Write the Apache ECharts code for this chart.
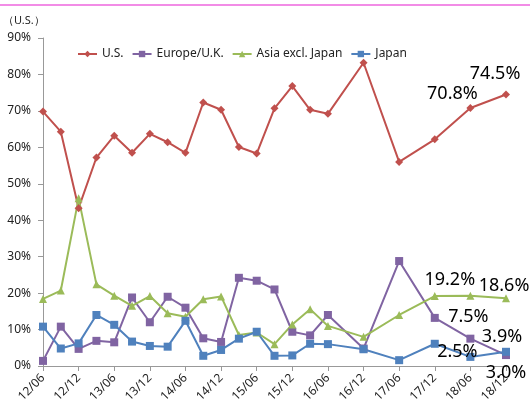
<!DOCTYPE html>
<html>
	<head>
		<meta charset="utf-8">
		<title></title>
		<script src="https://cdn.jsdelivr.net/npm/echarts@6/dist/echarts.min.js"></script>
		<style>
			html,body{margin:0;padding:0;background:#fff;}
			#chart{
				width: 532px;
				height: 415px;
			}
		</style>
	</head>
	<body>
		<div id="chart"></div>
		<script>
			// quarterly categories, points only where a survey exists
			const categories = ['12/06','12/09','12/12','13/03','13/06','13/09','13/12','14/03','14/06','14/09',
				'14/12','15/03','15/06','15/09','15/12','16/03','16/06','16/09','16/12','17/03',
				'17/06','17/09','17/12','18/03','18/06','18/09','18/12'];
			const usData = [69.8,64.3,43.3,57.2,63.2,58.5,63.7,61.4,58.5,72.3,70.3,60.1,58.3,70.7,76.8,70.3,69.2,null,83.2,null,56.0,null,62.2,null,70.8,null,74.5];
			const europeData = [1.4,10.8,4.7,6.9,6.5,18.8,12.0,19.0,16.0,7.6,6.6,24.2,23.4,21.0,9.4,8.4,14.0,null,4.8,null,28.8,null,13.2,null,7.5,null,3.0];
			const asiaData = [18.4,20.7,46.0,22.4,19.3,16.5,19.2,14.5,13.5,18.3,19.1,8.5,9.2,6.0,11.4,15.6,11.0,null,8.0,null,14.0,null,19.2,null,19.3,null,18.6];
			const japanData = [10.8,4.8,6.2,14.0,11.3,6.7,5.5,5.3,12.4,2.8,4.4,7.5,9.4,2.8,2.9,6.1,6.0,null,4.6,null,1.6,null,6.1,null,2.5,null,3.9];
			const yTicks = [0,10,20,30,40,50,60,70,80,90];

			const font = 'Noto Sans';

			// labelled points: [category, offset of label from point]
			function withLabels(data, marks){
				return data.map(function(v, i){
					const m = marks[categories[i]];
					if(!m || v == null) return v;
					return {
						value: v,
						label: {
							show: true,
							position: 'inside',
							offset: m,
							formatter: v.toFixed(1) + '%',
							fontSize: 18,
							fontFamily: font,
							color: '#000'
						}
					};
				});
			}

			function line(name, color, symbol, size, data){
				return {
					name: name,
					type: 'line',
					data: data,
					connectNulls: true,
					symbol: symbol,
					symbolSize: size,
					itemStyle: {color: color},
					lineStyle: {color: color, width: 2},
					emphasis: {disabled: true}
				};
			}

			const chart = echarts.init(document.getElementById('chart'));
			const option = {
				animation: false,
				title: {
					text: '（U.S.）',
					left: -2,
					top: 10,
					textStyle: {fontSize: 11, fontWeight: 'normal', fontFamily: font, color: '#222'}
				},
				graphic: [{
					type: 'line',
					shape: {x1: 0, y1: 5, x2: 530, y2: 5},
					style: {stroke: '#f28ce6', lineWidth: 2}
				}],
				legend: {
					left: 72,
					top: 43,
					itemWidth: 19,
					itemHeight: 8,
					itemGap: 8,
					textStyle: {fontSize: 12, fontFamily: font, color: '#222'},
					data: ['U.S.','Europe/U.K.','Asia excl. Japan','Japan']
				},
				grid: {left: 43, right: 26, top: 38, bottom: 49},
				xAxis: {
					type: 'category',
					boundaryGap: false,
					data: categories,
					axisLine: {lineStyle: {color: '#999'}},
					axisTick: {interval: 1, length: 5, lineStyle: {color: '#999'}},
					axisLabel: {interval: 1, rotate: 45, margin: 10, fontSize: 12, fontFamily: font, color: '#222'}
				},
				yAxis: {
					type: 'value',
					min: yTicks[0],
					max: yTicks[yTicks.length - 1],
					interval: 10,
					splitLine: {show: false},
					axisLine: {show: true, lineStyle: {color: '#999'}},
					axisTick: {show: true, length: 5, lineStyle: {color: '#999'}},
					axisLabel: {formatter: '{value}%', margin: 12, fontSize: 12, fontFamily: font, color: '#222'}
				},
				series: [
					line('U.S.', '#c0504d', 'diamond', 8, withLabels(usData, {'18/06': [-18, -14], '18/12': [-11, -21]})),
					line('Europe/U.K.', '#8064a2', 'rect', 8, withLabels(europeData, {'18/06': [-2, -22], '18/12': [0, 18]})),
					line('Asia excl. Japan', '#9bbb59', 'triangle', 8, withLabels(asiaData, {'17/12': [15, -16], '18/12': [-2, -12]})),
					line('Japan', '#4f81bd', 'rect', 8, withLabels(japanData, {'18/06': [-13, -5], '18/12': [-4, -15]}))
				]
			};
			chart.setOption(option);
		</script>
	</body>
</html>
